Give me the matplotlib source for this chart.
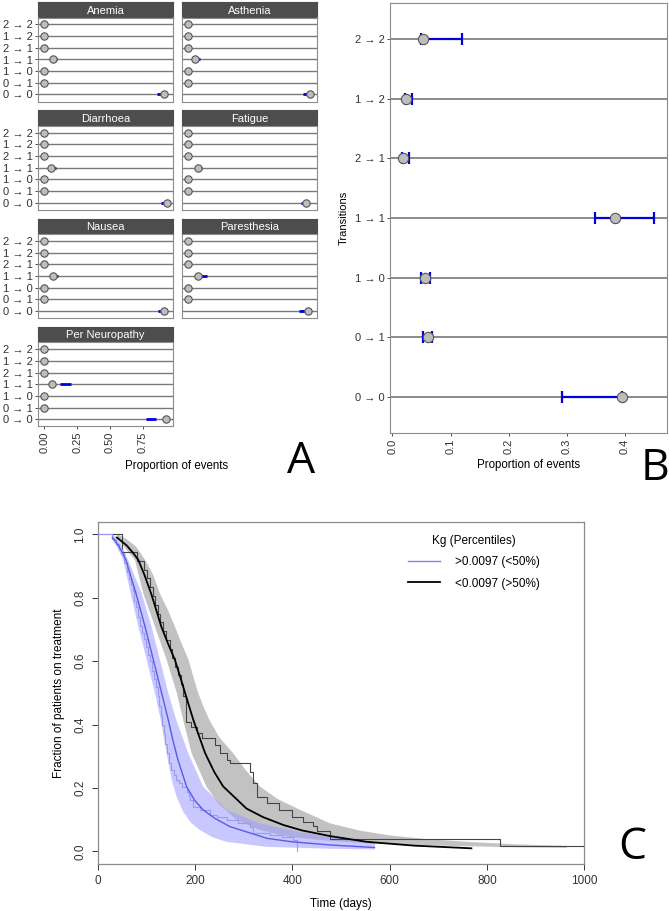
import numpy as np
import matplotlib
matplotlib.use('Agg')
import matplotlib.pyplot as plt
from matplotlib.lines import Line2D

plt.rcParams['font.family'] = ['Liberation Sans', 'DejaVu Sans']

W, H = 669, 911

# ---- panel A / B data ----
transitions = ['2 → 2', '1 → 2', '2 → 1', '1 → 1', '1 → 0', '0 → 1', '0 → 0']  # top to bottom
facet_names = ['Anemia', 'Asthenia', 'Diarrhoea', 'Fatigue', 'Nausea', 'Paresthesia', 'Per Neuropathy']

anemia_p = [0, 0, 0, 0.066, 0, 0, 0.906]
anemia_lo = [0, 0, 0, 0.062, 0, 0, 0.855]
anemia_hi = [0, 0, 0, 0.100, 0, 0, 0.906]
asthenia_p = [0, 0, 0, 0.051, 0, 0, 0.927]
asthenia_lo = [0, 0, 0, 0.045, 0, 0, 0.870]
asthenia_hi = [0, 0, 0, 0.092, 0, 0, 0.927]
diarrhoea_p = [0, 0, 0, 0.051, 0, 0, 0.930]
diarrhoea_lo = [0, 0, 0, 0.045, 0, 0, 0.885]
diarrhoea_hi = [0, 0, 0, 0.088, 0, 0, 0.930]
fatigue_p = [0, 0, 0, 0.076, 0, 0, 0.896]
fatigue_lo = [0, 0, 0, 0.070, 0, 0, 0.855]
fatigue_hi = [0, 0, 0, 0.108, 0, 0, 0.896]
nausea_p = [0, 0, 0, 0.069, 0, 0, 0.910]
nausea_lo = [0, 0, 0, 0.065, 0, 0, 0.860]
nausea_hi = [0, 0, 0, 0.105, 0, 0, 0.910]
paresthesia_p = [0, 0, 0, 0.072, 0, 0, 0.908]
paresthesia_lo = [0, 0, 0, 0.080, 0, 0, 0.840]
paresthesia_hi = [0, 0, 0, 0.140, 0, 0, 0.900]
neuropathy_p = [0, 0, 0, 0.056, 0, 0, 0.926]
neuropathy_lo = [0, 0, 0, 0.120, 0, 0, 0.770]
neuropathy_hi = [0, 0, 0, 0.200, 0, 0, 0.850]

facet_p = [anemia_p, asthenia_p, diarrhoea_p, fatigue_p, nausea_p, paresthesia_p, neuropathy_p]
facet_lo = [anemia_lo, asthenia_lo, diarrhoea_lo, fatigue_lo, nausea_lo, paresthesia_lo, neuropathy_lo]
facet_hi = [anemia_hi, asthenia_hi, diarrhoea_hi, fatigue_hi, nausea_hi, paresthesia_hi, neuropathy_hi]

b_prop = [0.052, 0.024, 0.018, 0.382, 0.0555, 0.0617, 0.394]
b_lo = [0.050, 0.021, 0.016, 0.349, 0.0486, 0.0526, 0.292]
b_hi = [0.1205, 0.033, 0.029, 0.449, 0.065, 0.068, 0.394]

# ---- panel C data ----
blue_t = [31, 45, 58.5, 79, 97.6, 114.7, 131.8, 145.5, 155, 165, 183, 200, 217, 240, 272, 348, 400, 478, 569]
blue_y = [0.99, 0.96, 0.919, 0.814, 0.709, 0.604, 0.499, 0.414, 0.35, 0.29, 0.204, 0.16, 0.131, 0.105, 0.078, 0.041, 0.03, 0.02, 0.012]
black_t = [40, 60, 74, 84, 97, 110, 121, 131, 145, 159, 170, 180, 197, 221, 240, 258, 306, 340, 382, 420, 478, 553, 650, 768]
black_y = [0.99, 0.965, 0.94, 0.919, 0.87, 0.814, 0.76, 0.709, 0.655, 0.604, 0.55, 0.499, 0.414, 0.31, 0.25, 0.205, 0.135, 0.108, 0.083, 0.066, 0.048, 0.030, 0.018, 0.0095]

gray_up_t = [42, 60, 80, 98, 115, 128, 145, 159, 173, 187, 197, 207, 218, 230, 250, 279, 305, 334, 370, 416, 478, 540, 601, 680, 758, 860, 964]
gray_up_y = [1.0, 0.985, 0.96, 0.919, 0.87, 0.814, 0.76, 0.709, 0.655, 0.604, 0.55, 0.499, 0.455, 0.414, 0.36, 0.309, 0.255, 0.204, 0.165, 0.131, 0.088, 0.065, 0.05, 0.038, 0.03, 0.022, 0.017]
gray_lo_t = [38, 55, 77, 94, 118, 142, 163, 176, 193.5, 224, 248, 286, 334, 395, 478, 560, 650, 760, 860, 964]
gray_lo_y = [0.99, 0.96, 0.919, 0.814, 0.709, 0.604, 0.499, 0.414, 0.309, 0.204, 0.151, 0.099, 0.067, 0.045, 0.033, 0.025, 0.02, 0.016, 0.013, 0.011]

bband_up_t = [33, 48, 63, 90.7, 111, 128.4, 145.5, 162, 186.6, 217, 265, 334, 416, 478, 540, 570]
bband_up_y = [1.0, 0.97, 0.919, 0.814, 0.709, 0.604, 0.499, 0.414, 0.309, 0.204, 0.131, 0.088, 0.06, 0.045, 0.035, 0.03]
bband_lo_t = [28, 40, 53, 68, 84, 101, 118, 130, 136, 143, 152.6, 163, 176, 192, 210.6, 235, 265, 347.6, 478, 570]
bband_lo_y = [0.99, 0.96, 0.919, 0.814, 0.709, 0.604, 0.499, 0.414, 0.36, 0.30, 0.225, 0.17, 0.125, 0.09, 0.067, 0.045, 0.03, 0.014, 0.008, 0.006]

km_black_t = [0, 50, 82, 95, 102, 108, 113, 118, 124, 129, 135, 141, 148, 154, 160, 166, 171, 176, 181, 193, 204, 214, 241, 252, 265, 272, 313, 320, 327, 348, 372, 400, 423, 443, 450, 478, 827, 1000]
km_black_s = [1.0, 0.944, 0.917, 0.889, 0.861, 0.833, 0.806, 0.778, 0.750, 0.722, 0.694, 0.667, 0.639, 0.611, 0.583, 0.556, 0.528, 0.49, 0.409, 0.393, 0.372, 0.357, 0.336, 0.309, 0.288, 0.278, 0.25, 0.215, 0.172, 0.151, 0.130, 0.109, 0.094, 0.079, 0.063, 0.040, 0.018, 0.018]
km_blue_t = [0, 30, 38, 45, 50, 55, 60, 64, 68, 72, 76, 80, 84, 88, 92, 96, 100, 104, 108, 112, 116, 120, 124, 127, 130, 133, 136, 139, 142, 147, 152, 157, 162, 167, 173, 183, 187, 190, 197, 210, 231, 245, 265, 289, 313, 320, 354, 380, 402, 409]
km_blue_s = [1.0, 0.985, 0.97, 0.955, 0.94, 0.91, 0.88, 0.86, 0.84, 0.82, 0.79, 0.77, 0.74, 0.71, 0.69, 0.67, 0.645, 0.62, 0.60, 0.57, 0.545, 0.52, 0.49, 0.46, 0.43, 0.40, 0.37, 0.34, 0.31, 0.28, 0.257, 0.24, 0.225, 0.214, 0.204, 0.188, 0.175, 0.162, 0.141, 0.130, 0.115, 0.109, 0.099, 0.088, 0.078, 0.057, 0.052, 0.044, 0.036, 0.0]

legend_labels = ['>0.0097 (<50%)', '<0.0097 (>50%)']


def px_axes(fig, l, t, r, b):
    return fig.add_axes([l / W, 1 - b / H, (r - l) / W, (b - t) / H])


fig = plt.figure(figsize=(W / 100, H / 100), dpi=100)

# ---------------- Panel A: facets ----------------
ypos = np.arange(7, 0, -1)
for i, name in enumerate(facet_names):
    row, col = divmod(i, 2)
    left = [38, 182][col]
    right = left + 135
    top = 2 + 108.3 * row
    sax = px_axes(fig, left, top, right, top + 15.5)
    sax.set_facecolor('#4d4d4d')
    sax.set_xticks([])
    sax.set_yticks([])
    for s in sax.spines.values():
        s.set_color('#4d4d4d')
    sax.text(0.5, 0.45, name, color='white', fontsize=8, ha='center', va='center', transform=sax.transAxes)

    ax = px_axes(fig, left, top + 15.5, right, top + 99.5)
    for y in ypos:
        ax.axhline(y, color='#7a7a7a', lw=1.0, zorder=1)
    ax.hlines(ypos, facet_lo[i], facet_hi[i], color='#0000dd', lw=2, zorder=2)
    ax.scatter(facet_p[i], ypos, s=28, facecolor='#bdbdbd', edgecolor='#555555', linewidth=0.8, zorder=3)
    ax.set_xlim(-0.047, 0.977)
    ax.set_ylim(0.4, 7.6)
    for s in ax.spines.values():
        s.set_color('#8c8c8c')
        s.set_linewidth(0.8)
    ax.tick_params(colors='#333333', length=2.5, width=0.6, labelsize=8, pad=1.5)
    if col == 0:
        ax.set_yticks(ypos)
        ax.set_yticklabels(transitions)
    else:
        ax.set_yticks([])
    if name == 'Per Neuropathy':
        ax.set_xticks([0, 0.25, 0.5, 0.75])
        ax.set_xticklabels(['0.00', '0.25', '0.50', '0.75'], rotation=90)
    else:
        ax.set_xticks([])

fig.text(177 / W, 1 - 466 / H, 'Proportion of events', fontsize=8.3, ha='center', va='center')

# ---------------- Panel B ----------------
bx = px_axes(fig, 390, 3, 667, 433)
for y in ypos:
    bx.axhline(y, color='#8a8a8a', lw=1.4, zorder=1)
bx.hlines(ypos, b_lo, b_hi, color='#0000dd', lw=1.6, zorder=2)
bx.scatter(b_lo, ypos, marker='|', s=70, color='#0000dd', linewidth=1.6, zorder=2)
bx.scatter(b_hi, ypos, marker='|', s=70, color='#0000dd', linewidth=1.6, zorder=2)
bx.scatter(b_prop, ypos, s=55, facecolor='#bdbdbd', edgecolor='#555555', linewidth=0.8, zorder=3)
bx.set_xlim(-0.004, 0.472)
bx.set_ylim(0.4, 7.6)
bx.set_yticks(ypos)
bx.set_yticklabels(transitions)
bx.set_xticks([0, 0.1, 0.2, 0.3, 0.4])
bx.set_xticklabels(['0.0', '0.1', '0.2', '0.3', '0.4'], rotation=90)
for s in bx.spines.values():
    s.set_color('#8c8c8c')
    s.set_linewidth(0.8)
bx.tick_params(colors='#333333', length=2.5, width=0.6, labelsize=8, pad=1.5)
bx.set_xlabel('Proportion of events', fontsize=8.3, labelpad=4)
bx.set_ylabel('Transitions', fontsize=8, labelpad=4)

# ---------------- Panel C ----------------
cx = px_axes(fig, 97.5, 521.7, 584.3, 864)
cx.fill(np.r_[gray_up_t, gray_lo_t[::-1]], np.r_[gray_up_y, gray_lo_y[::-1]],
        color='#c2c2c2', lw=0, zorder=1)
cx.fill(np.r_[bband_up_t, bband_lo_t[::-1]], np.r_[bband_up_y, bband_lo_y[::-1]],
        color='#9c9cff', alpha=0.55, lw=0, zorder=2)
cx.step(km_black_t, km_black_s, where='post', color='#444444', lw=0.8, zorder=3)
cx.step(km_blue_t, km_blue_s, where='post', color='#9a9aee', lw=0.8, zorder=3)
cx.plot(blue_t, blue_y, color='#5a5ae6', lw=1.0, zorder=4)
cx.plot(black_t, black_y, color='black', lw=1.3, zorder=4)
cx.set_xlim(0, 1000)
cx.set_ylim(-0.04, 1.04)
cx.set_xticks([0, 200, 400, 600, 800, 1000])
cx.set_yticks([0, 0.2, 0.4, 0.6, 0.8, 1.0])
cx.set_yticklabels(['0.0', '0.2', '0.4', '0.6', '0.8', '1.0'], rotation=90, va='center')
for s in cx.spines.values():
    s.set_color('#8c8c8c')
    s.set_linewidth(0.9)
cx.tick_params(colors='#333333', length=4, width=0.7, labelsize=8.5, pad=4)
cx.set_xlabel('Time (days)', fontsize=8.5, labelpad=8)
cx.set_ylabel('Fraction of patients on treatment', fontsize=8.5, labelpad=7)

handles = [Line2D([], [], color='#8080ee', lw=1.0), Line2D([], [], color='black', lw=1.3)]
leg = cx.legend(handles, legend_labels, title='Kg (Percentiles)', loc='upper left',
                bbox_to_anchor=((397 - 97.5) / (584.3 - 97.5), 1 - (524 - 521.7) / (864 - 521.7)),
                frameon=False, fontsize=8.5, title_fontsize=8.5, handlelength=2.7,
                handletextpad=1.3, labelspacing=0.8)

# panel letters
fig.text(301 / W, 1 - 462 / H, 'A', fontsize=32, family='Open Sans', ha='center', va='center')
fig.text(655 / W, 1 - 469 / H, 'B', fontsize=32, family='Open Sans', ha='center', va='center')
fig.text(632 / W, 1 - 848 / H, 'C', fontsize=32, family='Open Sans', ha='center', va='center')

fig.savefig('out.png', dpi=100)
